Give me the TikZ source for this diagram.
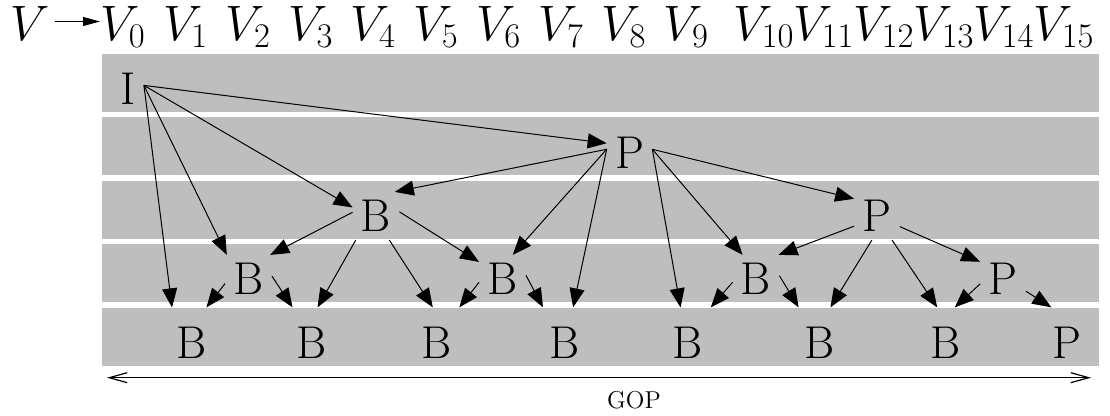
\documentclass[tikz,border=0pt]{standalone}
\usetikzlibrary{arrows.meta}
\definecolor{bandgray}{RGB}{190,190,190}
\begin{document}
\begin{tikzpicture}[x=0.5pt,y=-0.5pt,
	font=\fontsize{23}{28}\selectfont,
	frame/.style={inner xsep=4pt,inner ysep=4pt},
	leaf/.style={inner xsep=4pt,inner ysep=9.5pt},
	vname/.style={anchor=base west,inner sep=0pt},
	edge/.style={-{Triangle[length=9.5pt,width=7.5pt]},line width=0.5pt},
	vtip/.style={-{Triangle[length=8.5pt,width=4.5pt]},line width=0.5pt},
	gop/.style={{Straight Barb[length=9pt,width=5pt]}-{Straight Barb[length=9pt,width=5pt]},line width=0.6pt}]
	\useasboundingbox (0,0) rectangle (1110,416);
	\foreach \r in {0,...,4}
		\fill[bandgray] (102,54+63.4*\r) rectangle (1099,112+63.4*\r);
	\node[vname] (v) at (10,40.5) {$V$};
	\foreach \k in {0,...,9}
		\node[vname] (v\k) at (100+62.6*\k,40.5) {$V_{\k}$};
	\foreach \k in {10,...,15}
		\node[vname] (v\k) at (733+60*\k-600,40.5) {$V_{\k}$};
	\draw[vtip,shorten <=2.5pt] ([yshift=1pt]v.east) -- ([yshift=1pt]v.east -| v0.west);
	\node[frame] (i) at (128,88.5) {I};
	\node[frame] (p8) at (629.5,152.5) {P};
	\node[frame] (b4) at (376,216) {B};
	\node[frame] (p12) at (877,216) {P};
	\node[frame] (b2) at (248.5,279) {B};
	\node[frame] (b6) at (502.5,279) {B};
	\node[frame] (b10) at (756,279) {B};
	\node[frame] (p14) at (1003,279) {P};
	\node[leaf] (b1) at (191.5,342.5) {B};
	\node[leaf] (b3) at (312,342.5) {B};
	\node[leaf] (b5) at (436.5,342.5) {B};
	\node[leaf] (b7) at (565,342.5) {B};
	\node[leaf] (b9) at (688,342.5) {B};
	\node[leaf] (b11) at (819.7,342.5) {B};
	\node[leaf] (b13) at (946,342.5) {B};
	\node[leaf] (p15) at (1067,342.5) {P};
	\draw[edge] (i.11) -- (p8.158);
	\draw[edge] (i.11) -- (b4.160);
	\draw[edge] (i.11) -- (b2.132);
	\draw[edge] (i.11) -- (b1.119);
	\draw[edge] (p8.172) -- (b4.52);
	\draw[edge] (p8.172) -- (b6.67);
	\draw[edge] (p8.172) -- (b7.77);
	\draw[edge] (p8.8) -- (b9.102);
	\draw[edge] (p8.8) -- (b10.119);
	\draw[edge] (p8.8) -- (p12.143);
	\draw[edge] (b4.171) -- (b2.48);
	\draw[edge] (b4.230) -- (b3.81);
	\draw[edge] (b4.299) -- (b5.96);
	\draw[edge] (b4.10) -- (b6.144);
	\draw[edge] (b2.191) -- (b1.67);
	\draw[edge] (b2.7) -- (b3.119);
	\draw[edge] (b6.188) -- (b5.57);
	\draw[edge] (b6.9) -- (b7.122);
	\draw[edge] (b10.188) -- (b9.57);
	\draw[edge] (b10.8) -- (b11.121);
	\draw[edge] (p12.204) -- (b10.47);
	\draw[edge] (p12.258) -- (b11.73);
	\draw[edge] (p12.302) -- (b13.104);
	\draw[edge] (p12.335) -- (p14.143);
	\draw[edge] (p14.192) -- (b13.76);
	\draw[edge] (p14.332) -- (p15.114);
	\coordinate (gl) at (107,377.7);
	\coordinate (gr) at (1091,377.7);
	\draw[gop] (gl) -- (gr);
	\node[font=\fontsize{12.2}{14}\selectfont] (gopname) at (634,400) {GOP};
\end{tikzpicture}
\end{document}
